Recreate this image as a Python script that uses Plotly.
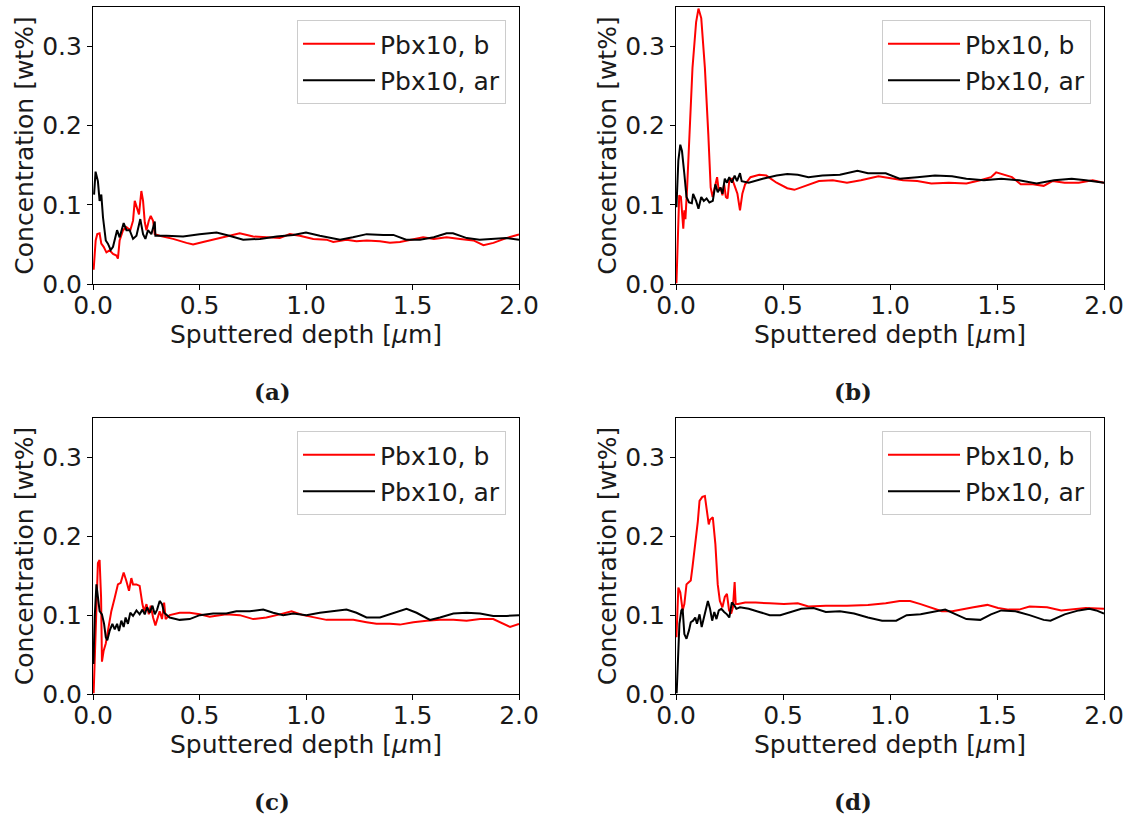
import plotly.graph_objects as go

# ---------------- data ----------------
a_black_x = [0.005, 0.012, 0.023, 0.031, 0.039, 0.047, 0.06, 0.07, 0.083, 0.094, 0.113, 0.125, 0.144, 0.157, 0.172, 0.188, 0.204, 0.222, 0.235, 0.246, 0.258, 0.274, 0.29, 0.293, 0.345, 0.423, 0.5, 0.58, 0.64, 0.705, 0.784, 0.862, 0.94, 1.0, 1.065, 1.13, 1.16, 1.22, 1.285, 1.363, 1.41, 1.47, 1.535, 1.6, 1.66, 1.69, 1.755, 1.815, 1.878, 1.94, 2.0]
a_black_y = [0.113, 0.142, 0.13, 0.105, 0.113, 0.084, 0.055, 0.051, 0.043, 0.047, 0.068, 0.059, 0.077, 0.068, 0.068, 0.057, 0.061, 0.082, 0.063, 0.057, 0.068, 0.063, 0.079, 0.061, 0.061, 0.06, 0.063, 0.065, 0.061, 0.056, 0.057, 0.06, 0.062, 0.065, 0.061, 0.057, 0.056, 0.059, 0.063, 0.062, 0.062, 0.056, 0.056, 0.059, 0.064, 0.064, 0.058, 0.056, 0.057, 0.058, 0.056]
a_red_x = [0.003, 0.0125, 0.02, 0.031, 0.039, 0.05, 0.063, 0.078, 0.094, 0.11, 0.117, 0.125, 0.141, 0.157, 0.175, 0.188, 0.196, 0.207, 0.216, 0.227, 0.235, 0.243, 0.251, 0.262, 0.271, 0.282, 0.29, 0.313, 0.376, 0.439, 0.47, 0.517, 0.58, 0.642, 0.689, 0.752, 0.815, 0.877, 0.924, 0.971, 1.034, 1.096, 1.128, 1.19, 1.237, 1.285, 1.347, 1.394, 1.441, 1.504, 1.55, 1.6, 1.66, 1.723, 1.786, 1.833, 1.88, 1.94, 2.0]
a_red_y = [0.018, 0.055, 0.063, 0.064, 0.051, 0.047, 0.04, 0.0425, 0.038, 0.036, 0.032, 0.055, 0.068, 0.072, 0.068, 0.08, 0.105, 0.097, 0.088, 0.1175, 0.105, 0.078, 0.068, 0.08, 0.086, 0.08, 0.063, 0.061, 0.057, 0.052, 0.05, 0.053, 0.057, 0.061, 0.064, 0.06, 0.059, 0.058, 0.063, 0.061, 0.057, 0.056, 0.053, 0.056, 0.054, 0.055, 0.054, 0.052, 0.053, 0.056, 0.059, 0.057, 0.059, 0.057, 0.055, 0.049, 0.052, 0.058, 0.0625]

b_black_x = [0.002, 0.011, 0.02, 0.028, 0.039, 0.049, 0.061, 0.074, 0.08, 0.094, 0.105, 0.118, 0.13, 0.143, 0.156, 0.172, 0.184, 0.195, 0.208, 0.217, 0.228, 0.238, 0.249, 0.261, 0.274, 0.285, 0.299, 0.307, 0.34, 0.405, 0.47, 0.52, 0.569, 0.619, 0.684, 0.766, 0.848, 0.897, 0.98, 1.045, 1.127, 1.21, 1.29, 1.357, 1.439, 1.52, 1.603, 1.685, 1.767, 1.849, 1.915, 2.0]
b_black_y = [0.097, 0.156, 0.176, 0.168, 0.139, 0.11, 0.103, 0.102, 0.114, 0.105, 0.095, 0.11, 0.105, 0.108, 0.103, 0.105, 0.126, 0.116, 0.122, 0.114, 0.133, 0.128, 0.135, 0.128, 0.137, 0.13, 0.14, 0.13, 0.128, 0.133, 0.137, 0.139, 0.138, 0.135, 0.137, 0.138, 0.143, 0.14, 0.14, 0.133, 0.135, 0.137, 0.136, 0.133, 0.131, 0.133, 0.131, 0.127, 0.131, 0.133, 0.131, 0.128]
b_red_x = [0.002, 0.008, 0.015, 0.023, 0.03, 0.034, 0.039, 0.044, 0.052, 0.064, 0.077, 0.094, 0.105, 0.118, 0.135, 0.151, 0.162, 0.171, 0.18, 0.192, 0.2, 0.208, 0.217, 0.225, 0.233, 0.241, 0.249, 0.262, 0.274, 0.287, 0.299, 0.31, 0.323, 0.348, 0.389, 0.422, 0.47, 0.52, 0.553, 0.602, 0.668, 0.733, 0.799, 0.864, 0.946, 0.996, 1.061, 1.127, 1.193, 1.275, 1.357, 1.422, 1.472, 1.496, 1.52, 1.57, 1.611, 1.668, 1.718, 1.759, 1.816, 1.882, 1.947, 2.0]
b_red_y = [0.001, 0.064, 0.112, 0.11, 0.089, 0.07, 0.093, 0.082, 0.122, 0.197, 0.273, 0.331, 0.348, 0.336, 0.273, 0.189, 0.122, 0.11, 0.12, 0.135, 0.118, 0.122, 0.112, 0.126, 0.11, 0.108, 0.131, 0.133, 0.124, 0.114, 0.093, 0.114, 0.126, 0.135, 0.138, 0.137, 0.128, 0.121, 0.119, 0.124, 0.13, 0.131, 0.128, 0.131, 0.136, 0.134, 0.131, 0.13, 0.127, 0.128, 0.127, 0.131, 0.135, 0.141, 0.139, 0.135, 0.126, 0.126, 0.124, 0.13, 0.128, 0.128, 0.131, 0.128]

c_red_x = [0.003, 0.011, 0.017, 0.023, 0.031, 0.038, 0.042, 0.05, 0.06, 0.07, 0.086, 0.102, 0.117, 0.13, 0.144, 0.157, 0.169, 0.18, 0.188, 0.204, 0.219, 0.232, 0.24, 0.251, 0.262, 0.271, 0.282, 0.293, 0.302, 0.313, 0.324, 0.334, 0.341, 0.36, 0.407, 0.454, 0.501, 0.548, 0.626, 0.689, 0.752, 0.814, 0.877, 0.932, 0.987, 1.034, 1.096, 1.159, 1.222, 1.284, 1.331, 1.394, 1.441, 1.504, 1.566, 1.629, 1.692, 1.754, 1.817, 1.879, 1.926, 1.958, 2.0]
c_red_y = [0.001, 0.064, 0.122, 0.166, 0.17, 0.122, 0.041, 0.055, 0.064, 0.08, 0.105, 0.122, 0.139, 0.141, 0.154, 0.143, 0.131, 0.147, 0.139, 0.139, 0.137, 0.114, 0.105, 0.114, 0.101, 0.112, 0.097, 0.087, 0.095, 0.105, 0.095, 0.116, 0.095, 0.1, 0.103, 0.103, 0.101, 0.098, 0.101, 0.1, 0.095, 0.097, 0.101, 0.105, 0.1, 0.097, 0.094, 0.094, 0.094, 0.091, 0.089, 0.089, 0.088, 0.091, 0.093, 0.094, 0.094, 0.093, 0.095, 0.095, 0.089, 0.085, 0.089]
c_black_x = [0.002, 0.008, 0.016, 0.023, 0.031, 0.042, 0.052, 0.06, 0.067, 0.078, 0.091, 0.102, 0.113, 0.122, 0.133, 0.144, 0.153, 0.164, 0.175, 0.188, 0.204, 0.219, 0.232, 0.243, 0.254, 0.266, 0.279, 0.29, 0.301, 0.313, 0.324, 0.334, 0.36, 0.407, 0.454, 0.501, 0.564, 0.626, 0.673, 0.736, 0.799, 0.846, 0.893, 0.94, 1.002, 1.065, 1.128, 1.19, 1.237, 1.284, 1.347, 1.41, 1.472, 1.519, 1.582, 1.629, 1.692, 1.754, 1.817, 1.879, 1.942, 2.0]
c_black_y = [0.038, 0.097, 0.139, 0.122, 0.105, 0.101, 0.089, 0.072, 0.068, 0.08, 0.089, 0.082, 0.089, 0.08, 0.093, 0.085, 0.097, 0.089, 0.103, 0.099, 0.106, 0.101, 0.107, 0.101, 0.11, 0.103, 0.112, 0.101, 0.107, 0.118, 0.114, 0.103, 0.097, 0.094, 0.095, 0.1, 0.102, 0.102, 0.105, 0.105, 0.107, 0.103, 0.1, 0.102, 0.1, 0.103, 0.105, 0.107, 0.103, 0.097, 0.097, 0.103, 0.108, 0.103, 0.094, 0.097, 0.102, 0.103, 0.102, 0.099, 0.099, 0.1]

d_red_x = [0.002, 0.011, 0.02, 0.031, 0.039, 0.049, 0.061, 0.069, 0.077, 0.09, 0.102, 0.11, 0.123, 0.135, 0.146, 0.153, 0.159, 0.172, 0.184, 0.195, 0.205, 0.217, 0.228, 0.238, 0.248, 0.258, 0.266, 0.274, 0.279, 0.29, 0.323, 0.372, 0.438, 0.504, 0.569, 0.619, 0.7, 0.799, 0.897, 0.98, 1.045, 1.094, 1.143, 1.193, 1.242, 1.291, 1.34, 1.39, 1.455, 1.505, 1.554, 1.603, 1.652, 1.734, 1.8, 1.849, 1.915, 2.0]
d_red_y = [0.072, 0.135, 0.129, 0.106, 0.114, 0.139, 0.142, 0.144, 0.161, 0.19, 0.219, 0.245, 0.25, 0.251, 0.232, 0.215, 0.221, 0.224, 0.19, 0.139, 0.118, 0.11, 0.123, 0.127, 0.106, 0.102, 0.11, 0.142, 0.114, 0.114, 0.116, 0.116, 0.115, 0.114, 0.115, 0.111, 0.112, 0.112, 0.113, 0.115, 0.118, 0.118, 0.114, 0.109, 0.105, 0.105, 0.107, 0.11, 0.113, 0.109, 0.107, 0.107, 0.111, 0.11, 0.106, 0.107, 0.109, 0.108]
d_black_x = [0.003, 0.01, 0.016, 0.025, 0.031, 0.039, 0.049, 0.061, 0.069, 0.08, 0.09, 0.098, 0.11, 0.12, 0.13, 0.139, 0.149, 0.159, 0.169, 0.179, 0.189, 0.2, 0.212, 0.225, 0.238, 0.249, 0.261, 0.271, 0.282, 0.299, 0.34, 0.389, 0.438, 0.487, 0.537, 0.586, 0.643, 0.7, 0.766, 0.832, 0.897, 0.963, 1.029, 1.078, 1.143, 1.209, 1.258, 1.308, 1.357, 1.422, 1.472, 1.52, 1.586, 1.652, 1.718, 1.75, 1.816, 1.882, 1.931, 1.964, 2.0]
d_black_y = [0.001, 0.055, 0.089, 0.106, 0.108, 0.076, 0.07, 0.081, 0.091, 0.093, 0.097, 0.089, 0.101, 0.085, 0.097, 0.106, 0.118, 0.108, 0.093, 0.104, 0.095, 0.106, 0.108, 0.104, 0.101, 0.097, 0.116, 0.113, 0.108, 0.11, 0.108, 0.104, 0.1, 0.1, 0.104, 0.108, 0.109, 0.104, 0.105, 0.102, 0.097, 0.093, 0.093, 0.1, 0.101, 0.104, 0.107, 0.101, 0.095, 0.094, 0.101, 0.106, 0.105, 0.1, 0.094, 0.093, 0.101, 0.106, 0.108, 0.106, 0.102]

series_names = ["Pbx10, b", "Pbx10, ar"]
panel_labels = ["(a)", "(b)", "(c)", "(d)"]
x_tick_vals = [0.0, 0.5, 1.0, 1.5, 2.0]
y_tick_vals = [0.0, 0.1, 0.2, 0.3]
x_title = "Sputtered depth [<i>μ</i>m]"
y_title = "Concentration [wt%]"

panels = [
    (a_red_x, a_red_y, a_black_x, a_black_y),
    (b_red_x, b_red_y, b_black_x, b_black_y),
    (c_red_x, c_red_y, c_black_x, c_black_y),
    (d_red_x, d_red_y, d_black_x, d_black_y),
]

# ---------------- layout geometry ----------------
W, H = 1128, 821
px_boxes = [  # left, right, top, bottom in pixels
    (93, 519, 7, 284),
    (676, 1104, 7, 284),
    (93, 519, 418, 694),
    (676, 1104, 418, 694),
]
caption_pos = [(272, 391), (853, 391), (272, 801), (853, 801)]

FONT = "DejaVu Sans"
TXT = "#1a1a1a"
FS = 25

fig = go.Figure()
layout = dict(
    width=W, height=H,
    margin=dict(l=0, r=0, t=0, b=0, autoexpand=False),
    paper_bgcolor="white", plot_bgcolor="white",
    font=dict(family=FONT, size=FS, color=TXT),
    annotations=[],
)

for i, (rx, ry, bx, by) in enumerate(panels):
    n = "" if i == 0 else str(i + 1)
    leg = "legend" + n
    fig.add_trace(go.Scatter(x=rx, y=ry, mode="lines", name=series_names[0],
                             line=dict(color="#ff0000", width=2),
                             xaxis="x" + n, yaxis="y" + n, legend=leg,
                             legendgroup="r" + n))
    fig.add_trace(go.Scatter(x=bx, y=by, mode="lines", name=series_names[1],
                             line=dict(color="#000000", width=2),
                             xaxis="x" + n, yaxis="y" + n, legend=leg,
                             legendgroup="k" + n))
    l, r, t, b = px_boxes[i]
    xd = [l / W, r / W]
    yd = [1 - b / H, 1 - t / H]
    axcommon = dict(showline=True, linecolor="black", linewidth=1.2, mirror=True,
                    ticks="outside", ticklen=5, tickwidth=1.2, tickcolor="black",
                    showgrid=False, zeroline=False, automargin=False,
                    tickfont=dict(family=FONT, size=FS, color=TXT))
    layout["xaxis" + n] = dict(axcommon, domain=xd, range=[0, 2], tickvals=x_tick_vals,
                               tickformat=".1f", anchor="y" + n, ticklabelstandoff=-6,
                               title=dict(text=x_title, standoff=0,
                                          font=dict(family=FONT, size=FS, color=TXT)))
    layout["yaxis" + n] = dict(axcommon, domain=yd, range=[0, 0.35], tickvals=y_tick_vals,
                               tickformat=".1f", anchor="x" + n,
                               title=dict(text=y_title, standoff=1,
                                          font=dict(family=FONT, size=FS, color=TXT)))
    layout[leg] = dict(x=(r - 13) / W, xanchor="right", y=1 - (t + 13) / H, yanchor="top",
                       xref="paper", yref="paper",
                       bgcolor="rgba(255,255,255,0.8)", bordercolor="#cccccc", borderwidth=1,
                       font=dict(family=FONT, size=FS, color=TXT),
                       tracegroupgap=1, itemwidth=72)
    cx, cy = caption_pos[i]
    layout["annotations"].append(dict(
        text="<b>" + panel_labels[i] + "</b>", x=cx / W, y=1 - cy / H,
        xref="paper", yref="paper", showarrow=False, xanchor="center", yanchor="middle",
        font=dict(family="DejaVu Serif", size=23, color=TXT)))

fig.update_layout(**layout)
fig.write_html("out.html")
